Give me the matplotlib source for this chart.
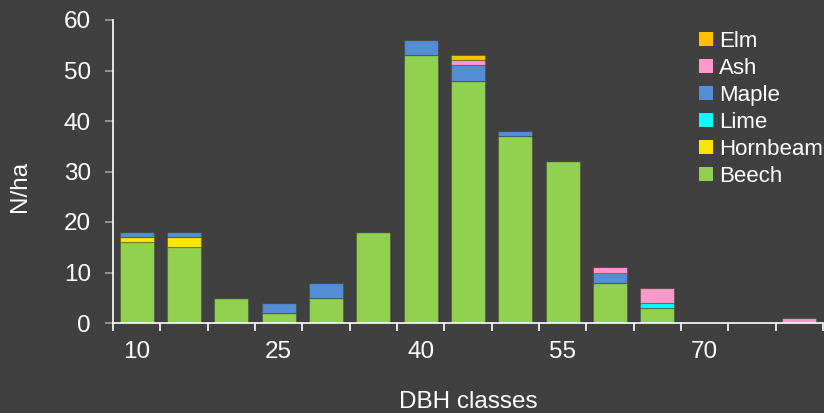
import matplotlib
matplotlib.use("Agg")
import matplotlib.pyplot as plt
import numpy as np

categories = [10, 15, 20, 25, 30, 35, 40, 45, 50, 55, 60, 65, 70, 75, 80]
beech    = [16, 15, 5, 2, 5, 18, 53, 48, 37, 32, 8, 3, 0, 0, 0]
hornbeam = [1, 2, 0, 0, 0, 0, 0, 0, 0, 0, 0, 0, 0, 0, 0]
lime     = [0, 0, 0, 0, 0, 0, 0, 0, 0, 0, 0, 1, 0, 0, 0]
maple    = [1, 1, 0, 2, 3, 0, 3, 3, 1, 0, 2, 0, 0, 0, 0]
ash      = [0, 0, 0, 0, 0, 0, 0, 1, 0, 0, 1, 3, 0, 0, 1]
elm      = [0, 0, 0, 0, 0, 0, 0, 1, 0, 0, 0, 0, 0, 0, 0]
shown_labels = ["10", "25", "40", "55", "70"]
y_ticks = [0, 10, 20, 30, 40, 50, 60]

series = [
    ("Beech", beech, "#92D050"),
    ("Hornbeam", hornbeam, "#FFE600"),
    ("Lime", lime, "#00FFFF"),
    ("Maple", maple, "#558ED5"),
    ("Ash", ash, "#FF99CC"),
    ("Elm", elm, "#FFC000"),
]

bg = "#404040"
plt.rcParams["font.family"] = ["Liberation Sans", "DejaVu Sans"]

fig = plt.figure(figsize=(8.24, 4.13), dpi=100, facecolor=bg)
ax = fig.add_axes([113 / 824, 1 - 323 / 413, 710 / 824, 303 / 413])
ax.set_facecolor(bg)

x = np.arange(len(categories))
bottom = np.zeros(len(categories))
handles = []
for name, vals, col in series:
    v = np.array(vals, dtype=float)
    b = ax.bar(x, v, bottom=bottom, width=0.72, color=col,
               edgecolor=(0.25, 0.3, 0.25, 0.5), linewidth=0.8, label=name)
    handles.append(b)
    bottom += v

ax.set_xlim(-0.5, len(categories) - 0.5)
ax.set_ylim(0, 60)

for s in ["top", "right"]:
    ax.spines[s].set_visible(False)
for s in ["left", "bottom"]:
    ax.spines[s].set_color("white")
    ax.spines[s].set_linewidth(1.2)

# x: boundary ticks (no labels), labels at every 3rd category via minor ticks
ax.set_xticks(np.arange(-0.5, len(categories), 1.0))
ax.set_xticklabels([])
ax.tick_params(axis="x", which="major", direction="out", length=6,
               color="white", width=1.2)
lab_pos = [categories.index(int(t)) for t in shown_labels]
ax.set_xticks(lab_pos, minor=True)
ax.set_xticklabels(shown_labels, minor=True)
ax.tick_params(axis="x", which="minor", length=0, pad=13,
               labelsize=17.5, labelcolor="white")

ax.set_yticks(y_ticks)
ax.set_yticklabels([str(t) for t in y_ticks])
ax.tick_params(axis="y", direction="out", length=6, color="#A0A0A0",
               width=1.2, pad=10, labelsize=17.5, labelcolor="white")

ax.set_xlabel("DBH classes", fontsize=17.5, color="white", labelpad=20)
ax.set_ylabel("N/ha", fontsize=17.5, color="white")
ax.yaxis.set_label_coords(-0.116, 0.45)

leg = fig.legend(handles[::-1], [s[0] for s in series][::-1],
                 loc="upper left", bbox_to_anchor=(699 / 824, 1 - 31 / 413),
                 frameon=False, fontsize=16, labelcolor="white",
                 handlelength=0.62, handleheight=0.62, handletextpad=0.3,
                 labelspacing=0.27, borderaxespad=0, borderpad=0)
for h in leg.legend_handles:
    h.set_edgecolor("none")

fig.savefig("out.png", dpi=100, facecolor=bg)
